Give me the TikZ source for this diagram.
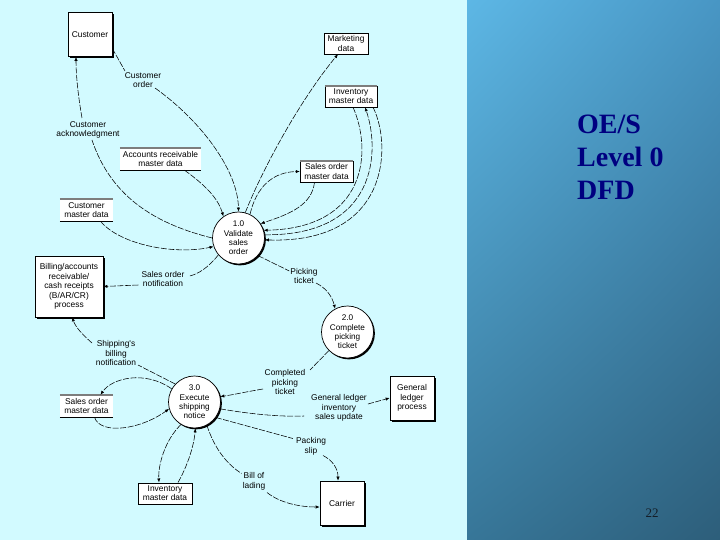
\documentclass[tikz,border=0pt]{standalone}
\usepackage{fontspec}
\setmainfont{Liberation Serif}
\newfontfamily\arialf{Liberation Sans}
\usetikzlibrary{arrows.meta,shadows,shadings,calc}
\definecolor{leftbg}{RGB}{210,250,255}
\definecolor{navytxt}{RGB}{0,0,128}
\definecolor{gul}{RGB}{93,183,229}
\definecolor{gur}{RGB}{72,150,196}
\definecolor{gll}{RGB}{55,118,152}
\definecolor{glr}{RGB}{45,94,122}
\definecolor{storegray}{RGB}{125,125,125}
\begin{document}
\begin{tikzpicture}[x=1pt,y=-1pt,
  lbl/.style={font=\arialf\fontsize{8.4}{9.6}\selectfont, align=center, inner sep=1pt},
  entity/.style={draw, line width=0.6pt, fill=white, minimum width=44pt, minimum height=44pt,
    inner sep=1pt, align=center, font=\arialf\fontsize{8.4}{9.6}\selectfont,
    drop shadow={shadow xshift=1.8pt, shadow yshift=-1.8pt, fill=black, opacity=1}},
  proc/.style={circle, draw, line width=0.7pt, fill=white, minimum size=52pt, inner sep=-3pt,
    align=center, font=\arialf\fontsize{8.2}{9.3}\selectfont,
    drop shadow={shadow xshift=1.4pt, shadow yshift=-1.4pt, fill=black, opacity=1}},
  store/.style={draw, line width=0.4pt, fill=white, inner sep=0pt, align=center,
    font=\arialf\fontsize{8.4}{9.2}\selectfont},
  openstore/.style={store, draw=none},
  flow/.style={line width=0.55pt, dash pattern=on 6pt off 1.5pt},
  flowa/.style={flow, -{Latex[length=4pt,width=3.2pt]}},
]
\useasboundingbox (0,0) rectangle (720,540);
% backgrounds
\fill[leftbg] (0,0) rectangle (467,540);
\shade[upper left=gul, upper right=gur, lower left=gll, lower right=glr] (467,0) rectangle (720,540);

% title
\node[anchor=base west, inner sep=0, text=navytxt, font=\bfseries\fontsize{28}{33}\selectfont] (t1) at (577,134) {OE/S};
\node[anchor=base west, inner sep=0, text=navytxt, font=\bfseries\fontsize{28}{33}\selectfont] (t2) at (577,167) {Level 0};
\node[anchor=base west, inner sep=0, text=navytxt, font=\bfseries\fontsize{28}{33}\selectfont] (t3) at (577,200) {DFD};
\node[anchor=base, inner sep=0, text={rgb,255:red,20;green,30;blue,40}, font=\fontsize{13}{15}\selectfont] (pg) at (652,517) {22};

% entities, processes, stores
\node[entity] (cust) at (90,34.5) {Customer};
\node[store, minimum width=44pt, minimum height=21pt] (mkt) at (346,43.5) {Marketing\\data};
\node[store, minimum width=52pt, minimum height=21pt] (inv1) at (351,96.5) {Inventory\\master data};
\node[openstore, minimum width=81pt, minimum height=22pt] (ar) at (160.5,159) {Accounts receivable\\master data};
\node[store, minimum width=53pt, minimum height=21pt] (som1) at (326.5,171.5) {Sales order\\master data};
\node[openstore, minimum width=53pt, minimum height=22pt] (cmd) at (86.5,210) {Customer\\master data};
\node[proc] (p1) at (238.5,238) {1.0\\Validate\\sales\\order};
\node[entity, minimum width=68pt, minimum height=61pt] (bill) at (69,286.5) {Billing/accounts\\receivable/\\cash receipts\\(B/AR/CR)\\process};
\node[proc] (p2) at (347.5,332) {2.0\\Complete\\picking\\ticket};
\node[proc] (p3) at (194.5,402) {3.0\\Execute\\shipping\\notice};
\node[openstore, minimum width=53pt, minimum height=22pt] (som2) at (86.5,406) {Sales order\\master data};
\node[store, line width=1pt, minimum width=54pt, minimum height=21pt,
  drop shadow={shadow xshift=1pt, shadow yshift=-1pt, fill=black, opacity=1}] (inv2) at (165,493.5) {Inventory\\master data};
\node[entity] (gl) at (412,398) {General\\ledger\\process};
\node[entity] (car) at (342,503) {Carrier};

\foreach \s in {inv1,ar,som1,cmd,som2} {
  \draw[storegray, line width=1.6pt] (\s.north west) -- (\s.north east);
  \draw[line width=1.1pt] (\s.south west) -- (\s.south east);
}
\draw[line width=1.1pt] (mkt.south west) -- (mkt.south east);

% labels
\node[lbl] (lco) at (143,80) {Customer\\order};
\node[lbl] (lack) at (88,130) {Customer\\acknowledgment};
\node[lbl] (lson) at (163,279) {Sales order\\notification};
\node[lbl] (lpt) at (304,276) {Picking\\ticket};
\node[lbl] (lsbn) at (116,353) {Shipping's\\billing\\notification};
\node[lbl] (lcpt) at (285,382) {Completed\\picking\\ticket};
\node[lbl] (lgl) at (339,408) {General ledger\\inventory\\sales update};
\node[lbl] (lps) at (311,446.5) {Packing\\slip};
\node[lbl] (lbill) at (254,481.5) {Bill of\\lading};

% Customer order
\draw[flow] (cust.-32) -- ($(lco)+(-18,-9)$);
\draw[flowa] ($(lco)+(12,8)$) .. controls (200,120) and (238,170) .. (p1.north);
% Customer acknowledgment
\draw[flow] (p1.west) .. controls (160,225) and (112,200) .. ($(lack)+(4,10)$);
\draw[flowa] ($(lack)+(-6,-12)$) .. controls (78,95) and (76,75) .. ([xshift=-14pt]cust.south);
% Accounts receivable
\draw[flowa] ([xshift=24pt]ar.south) .. controls (205,185) and (218,198) .. (p1.125);
% Customer master data
\draw[flowa] ([xshift=14pt]cmd.south) .. controls (120,245) and (175,255) .. (p1.199);
% Sales order notification
\draw[flow] (p1.220) .. controls (208,268) and (198,274) .. ($(lson.east)+(4,-3)$);
\draw[flowa] ($(lson.west)+(-2,6)$) -- (bill.east);
% Picking ticket
\draw[flow] (p1.-42) -- ($(lpt.west)+(0,-5)$);
\draw[flowa] ($(lpt)+(12,7)$) .. controls (326,288) and (332,296) .. (p2.118);
% Completed picking ticket
\draw[flow] (p2.225) -- ($(lcpt)+(25,-12)$);
\draw[flowa] ($(lcpt)+(-22,7)$) .. controls (245,392) and (232,395) .. (p3.12);
% General ledger
\draw[flow] (p3.-15) .. controls (250,414) and (280,417) .. ($(lgl.west)+(-6,8)$);
\draw[flowa] ($(lgl.east)+(0,-4)$) -- (gl.west);
% Packing slip
\draw[flow] (p3.-36) -- ($(lps.west)+(-2,-8)$);
\draw[flowa] ($(lps)+(12,9)$) .. controls (332,460) and (338,468) .. ([xshift=-4pt]car.north);
% Bill of lading
\draw[flow] (p3.-62) .. controls (215,450) and (228,465) .. ($(lbill.west)+(0,-8)$);
\draw[flowa] ($(lbill)+(13,11)$) .. controls (280,503) and (300,507) .. ([yshift=-4pt]car.west);
% Inventory (bottom)
\draw[flowa] (p3.239) .. controls (165,440) and (158,465) .. ([xshift=-6pt]inv2.north);
\draw[flowa] ([xshift=13pt]inv2.north) .. controls (188,465) and (194,445) .. (p3.-88);
% Sales order master data (bottom)
\draw[flowa] (p3.150) .. controls (145,370) and (112,378) .. ([xshift=14pt]som2.north);
\draw[flowa] ([xshift=8pt]som2.south) .. controls (100,435) and (140,430) .. (p3.195);
% Shipping's billing notification
\draw[flow] (p3.137) -- ($(lsbn)+(22,12)$);
\draw[flowa] ($(lsbn)+(-24,-10)$) .. controls (84,336) and (76,328) .. ([xshift=3pt]bill.south);
% Marketing data
\draw[flowa] (p1.75) .. controls (262,170) and (300,100) .. ([xshift=-8pt]mkt.south);
% Sales order master data (top)
\draw[flowa] (p1.64) .. controls (256,188) and (272,172) .. (som1.west);
\draw[flowa] ([xshift=-12pt]som1.south) .. controls (312,205) and (290,214) .. (p1.33);
% Inventory master data (top)
\draw[flowa] ([xshift=2pt]inv1.south) .. controls (372,150) and (368,228) .. (p1.17);
\draw[flowa] (p1.7) .. controls (378,236) and (380,150) .. ([xshift=14pt]inv1.south);
\draw[flowa] ([xshift=22pt]inv1.south) .. controls (392,145) and (390,244) .. (p1.-4);
\end{tikzpicture}
\end{document}
